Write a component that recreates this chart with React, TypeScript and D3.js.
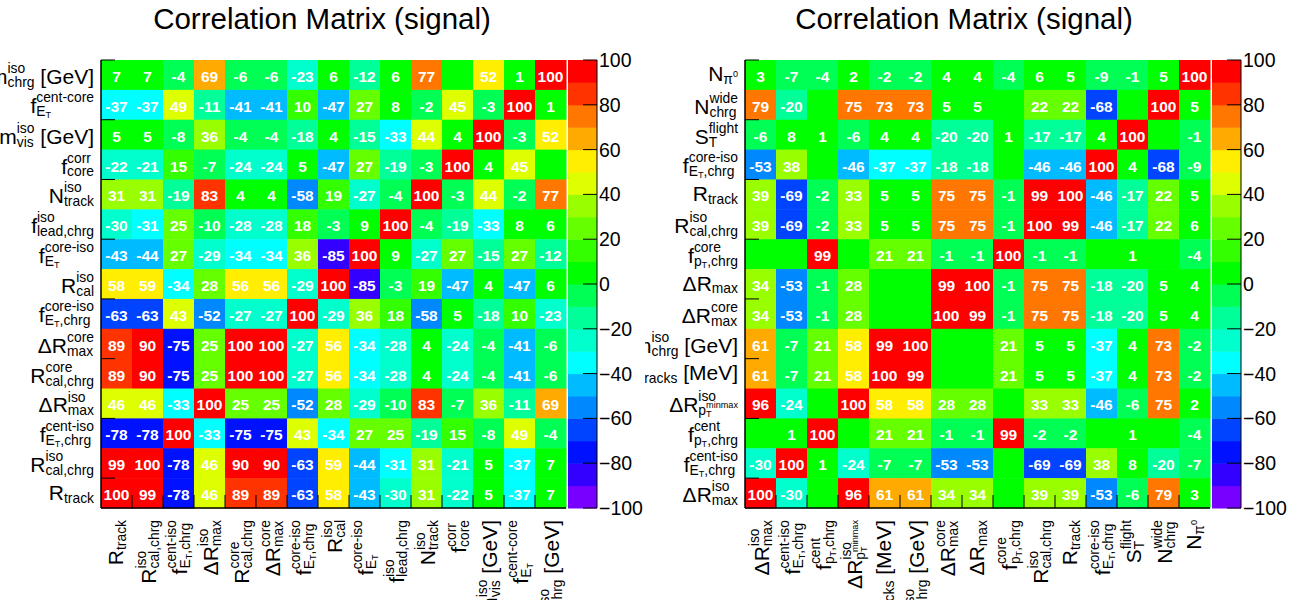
import * as d3 from 'd3';
import React, { useEffect, useRef } from 'react';

// row labels, top to bottom (columns use the reversed order)
const leftLabels = [
  'm^{iso}_{chrg} [GeV]',
  'f^{cent-core}_{E_{T}}',
  'm^{iso}_{vis} [GeV]',
  'f^{corr}_{core}',
  'N^{iso}_{track}',
  'f^{iso}_{lead,chrg}',
  'f^{core-iso}_{E_{T}}',
  'R^{iso}_{cal}',
  'f^{core-iso}_{E_{T},chrg}',
  'ΔR^{core}_{max}',
  'R^{core}_{cal,chrg}',
  'ΔR^{iso}_{max}',
  'f^{cent-iso}_{E_{T},chrg}',
  'R^{iso}_{cal,chrg}',
  'R_{track}',
];

// 0 = cell without a printed number
const leftCorr = [
  [7, 7, -4, 69, -6, -6, -23, 6, -12, 6, 77, 0, 52, 1, 100],
  [-37, -37, 49, -11, -41, -41, 10, -47, 27, 8, -2, 45, -3, 100, 1],
  [5, 5, -8, 36, -4, -4, -18, 4, -15, -33, 44, 4, 100, -3, 52],
  [-22, -21, 15, -7, -24, -24, 5, -47, 27, -19, -3, 100, 4, 45, 0],
  [31, 31, -19, 83, 4, 4, -58, 19, -27, -4, 100, -3, 44, -2, 77],
  [-30, -31, 25, -10, -28, -28, 18, -3, 9, 100, -4, -19, -33, 8, 6],
  [-43, -44, 27, -29, -34, -34, 36, -85, 100, 9, -27, 27, -15, 27, -12],
  [58, 59, -34, 28, 56, 56, -29, 100, -85, -3, 19, -47, 4, -47, 6],
  [-63, -63, 43, -52, -27, -27, 100, -29, 36, 18, -58, 5, -18, 10, -23],
  [89, 90, -75, 25, 100, 100, -27, 56, -34, -28, 4, -24, -4, -41, -6],
  [89, 90, -75, 25, 100, 100, -27, 56, -34, -28, 4, -24, -4, -41, -6],
  [46, 46, -33, 100, 25, 25, -52, 28, -29, -10, 83, -7, 36, -11, 69],
  [-78, -78, 100, -33, -75, -75, 43, -34, 27, 25, -19, 15, -8, 49, -4],
  [99, 100, -78, 46, 90, 90, -63, 59, -44, -31, 31, -21, 5, -37, 7],
  [100, 99, -78, 46, 89, 89, -63, 58, -43, -30, 31, -22, 5, -37, 7],
];

const rightLabels = [
  'N_{π^{0}}',
  'N^{wide}_{chrg}',
  'S^{flight}_{T}',
  'f^{core-iso}_{E_{T},chrg}',
  'R_{track}',
  'R^{iso}_{cal,chrg}',
  'f^{core}_{p_{T},chrg}',
  'ΔR_{max}',
  'ΔR^{core}_{max}',
  'm^{iso}_{chrg} [GeV]',
  'm_{tracks} [MeV]',
  'ΔR^{iso}_{p_{T}^{minmax}}',
  'f^{cent}_{p_{T},chrg}',
  'f^{cent-iso}_{E_{T},chrg}',
  'ΔR^{iso}_{max}',
];

const rightCorr = [
  [3, -7, -4, 2, -2, -2, 4, 4, -4, 6, 5, -9, -1, 5, 100],
  [79, -20, 0, 75, 73, 73, 5, 5, 0, 22, 22, -68, 0, 100, 5],
  [-6, 8, 1, -6, 4, 4, -20, -20, 1, -17, -17, 4, 100, 0, -1],
  [-53, 38, 0, -46, -37, -37, -18, -18, 0, -46, -46, 100, 4, -68, -9],
  [39, -69, -2, 33, 5, 5, 75, 75, -1, 99, 100, -46, -17, 22, 5],
  [39, -69, -2, 33, 5, 5, 75, 75, -1, 100, 99, -46, -17, 22, 6],
  [0, 0, 99, 0, 21, 21, -1, -1, 100, -1, -1, 0, 1, 0, -4],
  [34, -53, -1, 28, 0, 0, 99, 100, -1, 75, 75, -18, -20, 5, 4],
  [34, -53, -1, 28, 0, 0, 100, 99, -1, 75, 75, -18, -20, 5, 4],
  [61, -7, 21, 58, 99, 100, 0, 0, 21, 5, 5, -37, 4, 73, -2],
  [61, -7, 21, 58, 100, 99, 0, 0, 21, 5, 5, -37, 4, 73, -2],
  [96, -24, 0, 100, 58, 58, 28, 28, 0, 33, 33, -46, -6, 75, 2],
  [0, 1, 100, 0, 21, 21, -1, -1, 99, -2, -2, 0, 1, 0, -4],
  [-30, 100, 1, -24, -7, -7, -53, -53, 0, -69, -69, 38, 8, -20, -7],
  [100, -30, 0, 96, 61, 61, 34, 34, 0, 39, 39, -53, -6, 79, 3],
];

const paletteColors = [
  '#7700ff', '#3300ff', '#0011ff', '#0044ff', '#0088ff',
  '#00bbff', '#00ffff', '#00ffcc', '#00ff99', '#00ff55',
  '#00ff00', '#33ff00', '#66ff00', '#99ff00', '#ddff00',
  '#ffee00', '#ffaa00', '#ff7700', '#ff3300', '#ff0000',
];
const colorTicks = [-100, -80, -60, -40, -20, 0, 20, 40, 60, 80, 100];

const W = 1295;
const H = 600;
const FONT = '"Liberation Sans", Arial, Helvetica, sans-serif';
const LABEL_SIZE = 21;

// tiny TLatex-like parser: plain text plus stacked ^{..} / _{..} groups
function parse(s) {
  const out = [];
  let buf = '';
  let i = 0;
  while (i < s.length) {
    const c = s[i];
    if ((c === '^' || c === '_') && s[i + 1] === '{') {
      if (buf) { out.push({ t: buf }); buf = ''; }
      const grp = {};
      while (i < s.length && (s[i] === '^' || s[i] === '_') && s[i + 1] === '{') {
        let depth = 0;
        let j = i + 1;
        for (; j < s.length; j++) {
          if (s[j] === '{') depth++;
          else if (s[j] === '}') { depth--; if (depth === 0) break; }
        }
        grp[s[i] === '^' ? 'sup' : 'sub'] = parse(s.slice(i + 2, j));
        i = j + 1;
      }
      out.push(grp);
    } else {
      buf += c;
      i++;
    }
  }
  if (buf) out.push({ t: buf });
  return out;
}

function renderRich(g, nodes, x, y, size) {
  let cx = x;
  nodes.forEach(n => {
    if (n.t !== undefined) {
      const t = g.append('text')
        .attr('x', cx).attr('y', y)
        .attr('font-size', size)
        .style('white-space', 'pre')
        .text(n.t);
      cx += t.node().getComputedTextLength();
    } else {
      const s2 = size * 0.66;
      let w1 = 0, w2 = 0;
      if (n.sup) w1 = renderRich(g, n.sup, cx, y - size * 0.52, s2);
      if (n.sub) w2 = renderRich(g, n.sub, cx, y + size * 0.14, s2);
      cx += Math.max(w1, w2);
    }
  });
  return cx - x;
}

// draws a label whose end sits at the origin of `g`, centred across its reading direction
function drawLabel(g, label, size) {
  const inner = g.append('g');
  const w = renderRich(inner, parse(label), 0, 0, size);
  const bb = inner.node().getBBox();
  inner.attr('transform', `translate(${-w},${-(bb.y + bb.height / 2)})`);
}

const panels = [
  { labels: leftLabels, values: leftCorr, x0: 101, x1: 566, cbX: 568, titleX: 322, clip: [0, 645] },
  { labels: rightLabels, values: rightCorr, x0: 745, x1: 1210, cbX: 1212, titleX: 964, clip: [645, 1295] },
];

export default function App() {
  const ref = useRef(null);

  useEffect(() => {
    const svg = d3.select(ref.current);
    svg.selectAll('*').remove();

    const top = 60;
    const bottom = 508;
    const cbW = 29;

    const color = d3.scaleThreshold()
      .domain(d3.range(-90, 100, 10))
      .range(paletteColors);

    const defs = svg.append('defs');

    panels.forEach((p, pi) => {
      defs.append('clipPath').attr('id', 'pad' + pi)
        .append('rect')
        .attr('x', p.clip[0]).attr('y', 0)
        .attr('width', p.clip[1] - p.clip[0]).attr('height', H);

      const g = svg.append('g')
        .attr('clip-path', `url(#pad${pi})`)
        .attr('font-family', FONT);

      const n = p.labels.length;
      const x = d3.scaleBand().domain(d3.range(n)).range([p.x0, p.x1]);
      const y = d3.scaleBand().domain(d3.range(n)).range([top, bottom]);

      const cells = p.values.flatMap((row, i) => row.map((v, j) => ({ i, j, v })));

      g.selectAll('.cell')
        .data(cells)
        .enter().append('rect')
        .attr('x', d => x(d.j))
        .attr('y', d => y(d.i))
        .attr('width', x.bandwidth() + 0.5)
        .attr('height', y.bandwidth() + 0.5)
        .attr('fill', d => color(d.v));

      g.selectAll('.val')
        .data(cells.filter(d => d.v !== 0))
        .enter().append('text')
        .attr('x', d => x(d.j) + x.bandwidth() / 2)
        .attr('y', d => y(d.i) + y.bandwidth() / 2 + 7)
        .attr('text-anchor', 'middle')
        .attr('font-size', 15.5)
        .attr('font-weight', 'bold')
        .attr('fill', '#fff')
        .text(d => d.v);

      // axes
      g.append('line')
        .attr('x1', p.x0).attr('x2', p.x0).attr('y1', top).attr('y2', bottom)
        .attr('stroke', '#000').attr('stroke-width', 1.5);
      g.append('line')
        .attr('x1', p.x0).attr('x2', p.x1).attr('y1', bottom).attr('y2', bottom)
        .attr('stroke', '#000').attr('stroke-width', 1.5);

      d3.range(1, n).forEach(k => {
        g.append('line')
          .attr('x1', x(k)).attr('x2', x(k)).attr('y1', bottom).attr('y2', bottom - 13)
          .attr('stroke', '#000');
      });
      d3.range(0, n, 2).forEach(k => {
        g.append('line')
          .attr('x1', p.x0).attr('x2', p.x0 + 14).attr('y1', y(k)).attr('y2', y(k))
          .attr('stroke', '#000');
      });

      // row labels
      p.labels.forEach((lab, i) => {
        const lg = g.append('g')
          .attr('transform', `translate(${p.x0 - 7},${y(i) + y.bandwidth() / 2})`);
        drawLabel(lg, lab, LABEL_SIZE);
      });

      // column labels (reverse of the rows), rotated
      p.labels.slice().reverse().forEach((lab, j) => {
        const lg = g.append('g')
          .attr('transform', `translate(${x(j) + x.bandwidth() / 2},${bottom + 12}) rotate(-90)`);
        drawLabel(lg, lab, LABEL_SIZE);
      });

      // colour bar
      const cb = d3.scaleLinear().domain([-100, 100]).range([bottom, top]);
      d3.range(-100, 100, 10).forEach(l => {
        g.append('rect')
          .attr('x', p.cbX)
          .attr('y', cb(l + 10))
          .attr('width', cbW)
          .attr('height', cb(l) - cb(l + 10) + 0.5)
          .attr('fill', color(l + 5));
      });
      g.append('line')
        .attr('x1', p.cbX + cbW).attr('x2', p.cbX + cbW).attr('y1', top).attr('y2', bottom)
        .attr('stroke', '#000');
      colorTicks.forEach(t => {
        g.append('line')
          .attr('x1', p.cbX + cbW - 14).attr('x2', p.cbX + cbW)
          .attr('y1', cb(t)).attr('y2', cb(t))
          .attr('stroke', '#000');
        g.append('text')
          .attr('x', p.cbX + cbW + 2)
          .attr('y', cb(t) + 7)
          .attr('font-size', 19.5)
          .text(t < 0 ? '\u2212' + Math.abs(t) : String(t));
      });

      // title
      g.append('text')
        .attr('x', p.titleX)
        .attr('y', 29)
        .attr('text-anchor', 'middle')
        .attr('font-size', 29.5)
        .text('Correlation Matrix (signal)');
    });
  }, []);

  return (
    <svg
      ref={ref}
      width={W}
      height={H}
      style={{ position: 'absolute', left: 0, top: 0, background: '#fff' }}
    />
  );
}
